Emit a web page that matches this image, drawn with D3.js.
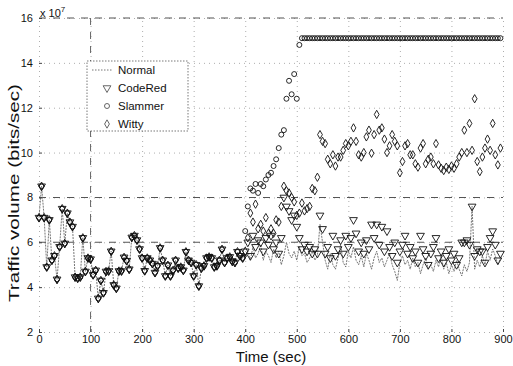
<!DOCTYPE html>
<html>
<head>
<meta charset="utf-8">
<script src="https://cdn.jsdelivr.net/npm/d3@7"></script>
<style>
  html, body { margin: 0; padding: 0; background: #fff; }
  svg { display: block; font-family: "Liberation Sans", Arial, Helvetica, sans-serif; }
</style>
</head>
<body>
<svg id="chart" width="513" height="366"></svg>
<script>
// ---- data (values in units of 10^7 bits/sec) ----
const xTicks = [0, 100, 200, 300, 400, 500, 600, 700, 800, 900];
const yTicks = [2, 4, 6, 8, 10, 12, 14, 16];
const seriesNames = ["Normal", "CodeRed", "Slammer", "Witty"];
const times = d3.range(0, 900, 5); // sample every 5 sec

// shared traffic before the worms start (t = 0..395)
const baseline = [
  7.1, 8.5, 7.1, 4.9, 7.0, 5.2, 5.4, 4.35, 5.8, 7.5,
  5.95, 7.3, 6.9, 6.7, 4.45, 4.4, 4.45, 6.2, 4.7, 5.3,
  5.25, 4.55, 4.75, 3.5, 4.3, 3.75, 4.7, 4.72, 5.6, 4.1,
  3.95, 4.72, 4.72, 5.33, 5.18, 4.8, 6.22, 6.3, 6.1, 5.7,
  5.3, 4.73, 5.3, 5.2, 5.05, 4.65, 4.95, 5.75, 5.2, 4.5,
  4.98, 4.5, 4.75, 5.2, 4.85, 4.9, 4.75, 5.58, 5.2, 5.1,
  4.5, 5.0, 4.05, 4.85, 4.95, 5.3, 5.35, 5.3, 4.9, 4.95,
  5.2, 5.69, 5.1, 5.3, 5.35, 5.15, 5.1, 5.58, 5.4, 5.3
];

// t = 400..895
const normalLate = [
  5.4, 5.6, 5.2, 5.8, 5.3, 5.5, 5.9, 5.2, 5.6, 5.4,
  5.1, 5.7, 5.3, 5.6, 5.0, 5.4, 6.0, 5.5, 5.3, 5.6,
  5.2, 5.8, 5.4, 5.5, 5.1, 5.3, 5.6, 5.2, 5.4, 6.8,
  6.0, 5.2, 4.8, 5.5, 5.0, 4.8, 5.3, 5.9, 5.1, 4.9,
  5.6, 5.3, 5.8, 5.2, 5.0, 5.4, 4.9, 5.5, 5.2, 4.8,
  5.3, 5.6, 5.1, 5.3, 4.9, 5.2, 5.5, 5.0, 4.7, 4.3,
  5.1, 5.4, 5.0, 5.2, 4.8, 5.3, 4.9, 5.1, 4.6, 5.0,
  5.3, 4.8, 5.0, 4.7, 5.2, 4.9, 5.4, 4.8, 5.1, 4.6,
  5.0, 4.7, 5.2, 4.8, 4.5, 5.0, 4.7, 5.1, 7.6, 4.8,
  5.2, 4.9, 5.4, 5.0, 5.6, 5.2, 5.7, 5.4, 5.0, 5.3
];
const codeRedLate = [
  5.6, 6.0, 5.4, 6.3, 5.8, 6.1, 6.0, 5.6, 6.2, 5.9,
  6.3, 5.7, 6.0, 5.5, 6.2, 8.0, 7.6, 7.4, 7.0, 7.2,
  6.7, 6.2, 5.7, 5.9, 5.6, 5.8, 5.5, 5.7, 5.5, 7.2,
  6.6, 5.5, 5.8, 5.3, 6.3, 5.4, 5.7, 6.1, 5.5, 6.3,
  5.8, 6.2, 7.0, 6.4, 5.6, 6.0, 5.5, 6.1, 5.7, 6.8,
  6.2, 6.8, 5.9, 6.7, 5.6, 6.5, 5.8, 5.4, 6.0, 5.1,
  5.6, 5.9, 6.3, 5.5, 5.8, 5.3, 5.6, 5.1, 6.3, 5.7,
  5.4, 5.0, 5.5, 5.8, 6.2, 5.3, 5.6, 5.1, 5.4, 5.7,
  5.2, 5.5, 5.0, 5.3, 6.0, 6.0, 6.1, 5.9, 7.6, 5.4,
  5.7, 5.6, 5.6, 5.1, 5.8, 6.2, 6.5, 5.9, 5.2, 5.5
];
const slammerLate = [
  6.5, 7.6, 8.4, 8.3, 8.6, 8.2, 8.6, 8.5, 8.8, 9.0,
  9.1, 9.4, 9.7, 10.2, 10.8, 11.0, 12.4, 13.2, 12.6, 13.5,
  12.4, 14.8, 15.1, 15.1, 15.1, 15.1, 15.1, 15.1, 15.1, 15.1,
  15.1, 15.1, 15.1, 15.1, 15.1, 15.1, 15.1, 15.1, 15.1, 15.1,
  15.1, 15.1, 15.1, 15.1, 15.1, 15.1, 15.1, 15.1, 15.1, 15.1,
  15.1, 15.1, 15.1, 15.1, 15.1, 15.1, 15.1, 15.1, 15.1, 15.1,
  15.1, 15.1, 15.1, 15.1, 15.1, 15.1, 15.1, 15.1, 15.1, 15.1,
  15.1, 15.1, 15.1, 15.1, 15.1, 15.1, 15.1, 15.1, 15.1, 15.1,
  15.1, 15.1, 15.1, 15.1, 15.1, 15.1, 15.1, 15.1, 15.1, 15.1,
  15.1, 15.1, 15.1, 15.1, 15.1, 15.1, 15.1, 15.1, 15.1, 15.1
];
const wittyLate = [
  5.6, 6.2, 7.3, 6.9, 7.7, 6.6, 6.8, 6.5, 7.1, 6.4,
  6.6, 6.4, 7.0, 6.9, 7.6, 8.5, 8.3, 8.2, 8.0, 7.8,
  7.2, 7.3, 7.75, 7.4, 7.5, 7.6, 8.4, 8.3, 8.9, 10.8,
  10.5, 10.4, 9.7, 9.5, 9.9, 9.4, 9.8, 9.8, 10.1, 10.4,
  10.3, 10.5, 11.1, 10.5, 9.9, 9.8, 10.0, 10.7, 11.0, 9.97,
  10.8, 11.7, 11.0, 11.1, 10.6, 10.0, 10.3, 10.8, 10.5, 10.3,
  9.1, 9.6, 10.3, 10.4, 9.9, 9.9, 9.5, 9.35, 10.2, 10.4,
  9.5, 9.7, 9.8, 9.5, 10.4, 9.45, 9.3, 9.2, 9.35, 9.25,
  9.4, 9.3, 9.5, 9.8, 10.0, 11.0, 10.0, 11.3, 10.1, 12.4,
  9.6, 9.15, 9.8, 10.2, 10.6, 10.1, 11.3, 9.9, 9.45, 10.2
];

const normalValues = baseline.concat(normalLate);
const codeRedValues = baseline.concat(codeRedLate);
const slammerValues = baseline.concat(slammerLate);
const wittyValues = baseline.concat(wittyLate);

// ---- drawing ----
const svg = d3.select("#chart");
const x = d3.scaleLinear().domain([0, 900]).range([39, 503]);
const y = d3.scaleLinear().domain([2, 16]).range([332, 18]);
const ink = "#111";

// grid (dotted)
svg.append("g")
  .attr("transform", `translate(0,${y(2)})`)
  .call(d3.axisBottom(x).tickValues(xTicks).tickSize(-(y(2) - y(16))).tickFormat(""))
  .call(g => g.select(".domain").remove())
  .call(g => g.selectAll("line").attr("stroke", "#999").attr("stroke-width", 0.8).attr("stroke-dasharray", "1,4"));
svg.append("g")
  .attr("transform", `translate(${x(0)},0)`)
  .call(d3.axisLeft(y).tickValues(yTicks).tickSize(-(x(900) - x(0))).tickFormat(""))
  .call(g => g.select(".domain").remove())
  .call(g => g.selectAll("line").attr("stroke", "#999").attr("stroke-width", 0.8).attr("stroke-dasharray", "1,4"));

// heavier dashed lines visible in the reference
const dashedH = [16, 8, 6];
svg.append("g").selectAll("line").data(dashedH).join("line")
  .attr("x1", x(0)).attr("x2", x(900))
  .attr("y1", d => y(d)).attr("y2", d => y(d))
  .attr("stroke", "#555").attr("stroke-width", 1.1).attr("stroke-dasharray", "7,7");
svg.append("line")
  .attr("x1", x(100)).attr("x2", x(100)).attr("y1", y(16)).attr("y2", y(2))
  .attr("stroke", "#666").attr("stroke-width", 1).attr("stroke-dasharray", "7,7");

// Normal line
const line = d3.line().x((d, i) => x(times[i])).y(d => y(d));
svg.append("path")
  .datum(normalValues)
  .attr("d", line)
  .attr("fill", "none")
  .attr("stroke", "#666")
  .attr("stroke-width", 0.9)
  .attr("stroke-dasharray", "2,1");

// markers
const triSym = d3.symbol().type(d3.symbolTriangle).size(26);
const diaSym = d3.symbol().type(d3.symbolDiamond).size(20);

svg.append("g").selectAll("path").data(codeRedValues).join("path")
  .attr("d", triSym)
  .attr("transform", (d, i) => `translate(${x(times[i])},${y(d)}) rotate(180)`)
  .attr("fill", "none").attr("stroke", ink).attr("stroke-width", 0.9);

svg.append("g").selectAll("circle").data(slammerValues).join("circle")
  .attr("cx", (d, i) => x(times[i])).attr("cy", d => y(d)).attr("r", 2.5)
  .attr("fill", "none").attr("stroke", ink).attr("stroke-width", 0.9);

svg.append("g").selectAll("path").data(wittyValues).join("path")
  .attr("d", diaSym)
  .attr("transform", (d, i) => `translate(${x(times[i])},${y(d)})`)
  .attr("fill", "none").attr("stroke", ink).attr("stroke-width", 0.9);

// axes
svg.append("g")
  .attr("transform", `translate(0,${y(2)})`)
  .call(d3.axisBottom(x).tickValues(xTicks).tickSizeInner(-3).tickSizeOuter(0).tickPadding(3))
  .call(g => g.select(".domain").remove())
  .call(g => g.selectAll("line").attr("stroke", "#444"))
  .call(g => g.selectAll("text").attr("font-size", 11).attr("fill", ink));
svg.append("g")
  .attr("transform", `translate(${x(0)},0)`)
  .call(d3.axisLeft(y).tickValues(yTicks).tickSizeInner(-3).tickSizeOuter(0).tickPadding(6))
  .call(g => g.select(".domain").remove())
  .call(g => g.selectAll("line").attr("stroke", "#444"))
  .call(g => g.selectAll("text").attr("font-size", 11).attr("fill", ink));

// exponent
const ex = svg.append("text").attr("x", 40).attr("y", 17).attr("font-size", 11).attr("fill", ink);
ex.append("tspan").text("x 10");
ex.append("tspan").attr("font-size", 8).attr("dy", -5).text("7");

// axis labels
svg.append("text")
  .attr("x", 271).attr("y", 362).attr("text-anchor", "middle")
  .attr("font-size", 15).attr("fill", ink).text("Time (sec)");
svg.append("text")
  .attr("transform", "translate(19,193) rotate(-90)")
  .attr("text-anchor", "middle")
  .attr("font-size", 15.5).attr("fill", ink)
  .attr("textLength", 218).attr("lengthAdjust", "spacingAndGlyphs")
  .text("Traffic volume (bits/sec)");

// legend
const lg = svg.append("g");
lg.append("rect").attr("x", 87).attr("y", 61).attr("width", 101).attr("height", 70)
  .attr("fill", "#fff").attr("stroke", "#555").attr("stroke-width", 0.8).attr("stroke-dasharray", "1.5,1.5");
const rowY = [70, 88, 106, 124];
seriesNames.forEach((name, i) => {
  const yy = rowY[i];
  if (i === 0) {
    lg.append("line").attr("x1", 92).attr("x2", 113).attr("y1", yy).attr("y2", yy)
      .attr("stroke", "#666").attr("stroke-width", 0.9).attr("stroke-dasharray", "1.5,1.5");
  } else if (i === 1) {
    lg.append("path").attr("d", triSym).attr("transform", `translate(107,${yy}) rotate(180)`)
      .attr("fill", "none").attr("stroke", "#555").attr("stroke-width", 0.9);
  } else if (i === 2) {
    lg.append("circle").attr("cx", 107).attr("cy", yy).attr("r", 2.5)
      .attr("fill", "none").attr("stroke", "#555").attr("stroke-width", 0.9);
  } else {
    lg.append("path").attr("d", diaSym).attr("transform", `translate(107,${yy})`)
      .attr("fill", "none").attr("stroke", "#555").attr("stroke-width", 0.9);
  }
  lg.append("text").attr("x", 118).attr("y", yy + 4).attr("font-size", 11.5).attr("fill", ink).text(name);
});
</script>
</body>
</html>
